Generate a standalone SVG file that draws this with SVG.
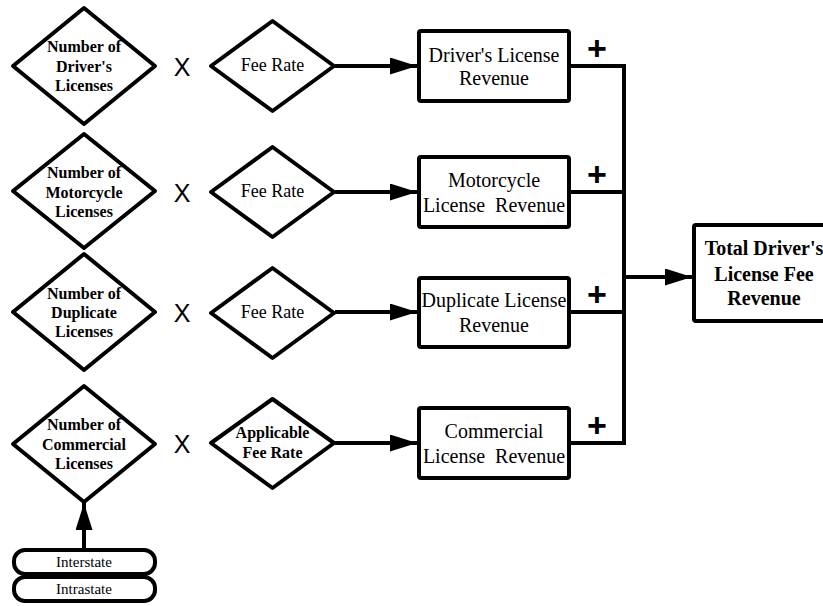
<svg xmlns="http://www.w3.org/2000/svg" width="823" height="606" viewBox="0 0 823 606">
  <style>
    .shape { fill: #ffffff; stroke: #000000; stroke-width: 4; stroke-linejoin: round; }
    .wire { fill: none; stroke: #000000; stroke-width: 4; stroke-linejoin: miter; }
    .qty { font-family: "Liberation Serif", "Times New Roman", serif; font-weight: bold; font-size: 16px; text-anchor: middle; fill: #000; }
    .rate { font-family: "Liberation Serif", "Times New Roman", serif; font-size: 18px; text-anchor: middle; fill: #000; }
    .rev { font-family: "Liberation Serif", "Times New Roman", serif; font-size: 20px; text-anchor: middle; fill: #000; white-space: pre; }
    .total { font-family: "Liberation Serif", "Times New Roman", serif; font-weight: bold; font-size: 20px; text-anchor: middle; fill: #000; }
    .cat { font-family: "Liberation Serif", "Times New Roman", serif; font-size: 15px; text-anchor: middle; fill: #000; }
    .op { font-family: "Liberation Sans", Arial, sans-serif; font-size: 25px; text-anchor: middle; fill: #000; }
    .plus { font-family: "Liberation Sans", Arial, sans-serif; font-weight: bold; font-size: 34px; text-anchor: middle; fill: #000; }
  </style>
  <defs>
    <marker id="head" markerUnits="userSpaceOnUse" markerWidth="27" markerHeight="17" refX="27" refY="8.5" orient="auto">
      <path d="M0,0 L27,8.5 L0,17 Z" fill="#000"/>
    </marker>
  </defs>

  <!-- connectors -->
  <g id="connectors">
    <line class="wire" x1="335" y1="66" x2="417" y2="66" marker-end="url(#head)"/>
    <line class="wire" x1="335" y1="192" x2="417" y2="192" marker-end="url(#head)"/>
    <line class="wire" x1="335" y1="312" x2="417" y2="312" marker-end="url(#head)"/>
    <line class="wire" x1="335" y1="443" x2="417" y2="443" marker-end="url(#head)"/>
    <polyline class="wire" points="571,66 624,66 624,445"/>
    <line class="wire" x1="571" y1="192" x2="624" y2="192"/>
    <line class="wire" x1="571" y1="312" x2="624" y2="312"/>
    <line class="wire" x1="571" y1="443" x2="624" y2="443"/>
    <line class="wire" x1="624" y1="277" x2="692" y2="277" marker-end="url(#head)"/>
    <line class="wire" x1="84" y1="548" x2="84" y2="503" marker-end="url(#head)"/>
  </g>

  <!-- operators -->
  <g id="operators">
    <text class="op" x="182" y="76">X</text>
    <text class="op" x="182" y="202">X</text>
    <text class="op" x="182" y="322">X</text>
    <text class="op" x="182" y="453">X</text>
    <text class="plus" x="597" y="60">+</text>
    <text class="plus" x="597" y="186">+</text>
    <text class="plus" x="597" y="306">+</text>
    <text class="plus" x="597" y="437">+</text>
  </g>

  <!-- row 1 -->
  <g id="num-drivers">
    <polygon class="shape" points="84,8 155,66 84,124 13,66"/>
    <text class="qty" x="84" y="52">Number of</text>
    <text class="qty" x="84" y="72">Driver's</text>
    <text class="qty" x="84" y="91">Licenses</text>
  </g>
  <g id="rate-drivers">
    <polygon class="shape" points="272.5,21 334,66 272.5,111 211,66"/>
    <text class="rate" x="272.5" y="71">Fee Rate</text>
  </g>
  <g id="rev-drivers">
    <rect class="shape" x="419" y="31" width="150" height="70" rx="2"/>
    <text class="rev" x="494" y="62">Driver's License</text>
    <text class="rev" x="494" y="85">Revenue</text>
  </g>

  <!-- row 2 -->
  <g id="num-motorcycle">
    <polygon class="shape" points="84,134 155,191 84,248 13,191"/>
    <text class="qty" x="84" y="178">Number of</text>
    <text class="qty" x="84" y="198">Motorcycle</text>
    <text class="qty" x="84" y="217">Licenses</text>
  </g>
  <g id="rate-motorcycle">
    <polygon class="shape" points="272.5,147 334,192 272.5,237 211,192"/>
    <text class="rate" x="272.5" y="197">Fee Rate</text>
  </g>
  <g id="rev-motorcycle">
    <rect class="shape" x="419" y="157" width="150" height="70" rx="2"/>
    <text class="rev" x="494" y="187">Motorcycle</text>
    <text class="rev" x="494" y="212">License  Revenue</text>
  </g>

  <!-- row 3 -->
  <g id="num-duplicate">
    <polygon class="shape" points="84,254 155,312 84,370 13,312"/>
    <text class="qty" x="84" y="299">Number of</text>
    <text class="qty" x="84" y="318">Duplicate</text>
    <text class="qty" x="84" y="337">Licenses</text>
  </g>
  <g id="rate-duplicate">
    <polygon class="shape" points="272.5,268 334,313 272.5,358 211,313"/>
    <text class="rate" x="272.5" y="318">Fee Rate</text>
  </g>
  <g id="rev-duplicate">
    <rect class="shape" x="419" y="278" width="150" height="69" rx="2"/>
    <text class="rev" x="494" y="307">Duplicate License</text>
    <text class="rev" x="494" y="332">Revenue</text>
  </g>

  <!-- row 4 -->
  <g id="num-commercial">
    <polygon class="shape" points="84,386 155,444 84,502 13,444"/>
    <text class="qty" x="84" y="430">Number of</text>
    <text class="qty" x="84" y="450">Commercial</text>
    <text class="qty" x="84" y="469">Licenses</text>
  </g>
  <g id="rate-commercial">
    <polygon class="shape" points="272.5,399 334,443 272.5,488 211,443"/>
    <text class="qty" x="272.5" y="438">Applicable</text>
    <text class="qty" x="272.5" y="458">Fee Rate</text>
  </g>
  <g id="rev-commercial">
    <rect class="shape" x="419" y="408" width="150" height="70" rx="2"/>
    <text class="rev" x="494" y="438">Commercial</text>
    <text class="rev" x="494" y="463">License  Revenue</text>
  </g>

  <!-- commercial categories -->
  <g id="cat-interstate">
    <rect class="shape" x="14" y="550" width="141" height="24" rx="11"/>
    <text class="cat" x="84" y="567">Interstate</text>
  </g>
  <g id="cat-intrastate">
    <rect class="shape" x="14" y="577" width="141" height="24" rx="11"/>
    <text class="cat" x="84" y="594">Intrastate</text>
  </g>

  <!-- total -->
  <g id="total-revenue">
    <rect class="shape" x="694" y="225" width="140" height="96" rx="2"/>
    <text class="total" x="764" y="255">Total Driver's</text>
    <text class="total" x="764" y="281">License Fee</text>
    <text class="total" x="764" y="305">Revenue</text>
  </g>
</svg>
